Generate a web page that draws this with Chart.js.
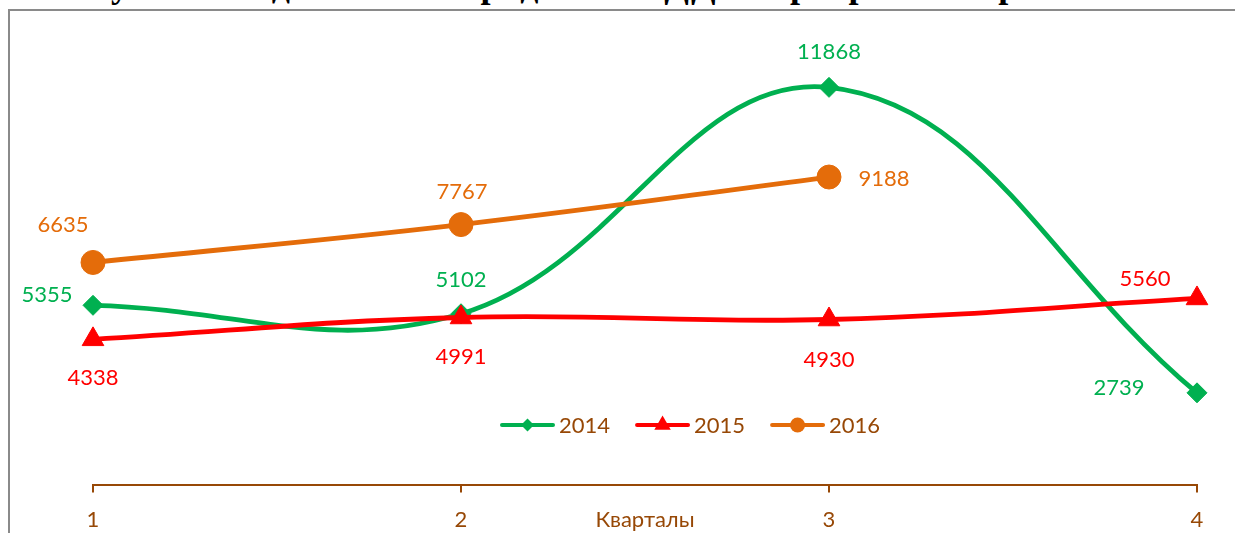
<!DOCTYPE html>
<html>
<head>
<meta charset="utf-8">
<title>Кварталы</title>
<script src="https://cdn.jsdelivr.net/npm/chart.js@4.4.1/dist/chart.umd.min.js"></script>
<style>
  html, body { margin: 0; padding: 0; background: #fff; overflow: hidden; }
  #wrap { position: relative; width: 1235px; height: 533px; overflow: hidden; }
  #heading {
    position: absolute; left: 625px; top: -33px; transform: translateX(-50%);
    font: bold 36px "Liberation Serif", serif; color: #000;
    white-space: nowrap; line-height: 36px; letter-spacing: 2px;
  }
  #frame {
    position: absolute; left: 8px; top: 9px; width: 1400px; height: 700px;
    border: 2px solid #8a8a8a; box-sizing: border-box;
  }
  #box { position: absolute; left: 0; top: 0; width: 1235px; height: 533px; }
</style>
</head>
<body>
<div id="wrap">
  <div id="heading">Анализ поступления денежных средств по ДДУ в разрезе кварталов 2014-2016 гг.</div>
  <div id="frame"></div>
  <div id="box"><canvas id="chart"></canvas></div>
</div>
<script>
// Data
const quarters = ['1', '2', '3', '4'];
const years = ['2014', '2015', '2016'];
const sales2014 = [5355, 5102, 11868, 2739];
const sales2015 = [4338, 4991, 4930, 5560];
const sales2016 = [6635, 7767, 9188, null];
const yMax = 14000;

const brown = '#974806';
const green = '#00B050';
const red = '#FF0000';
const orange = '#E46C0A';
const FONT = 'Lato';

// value labels next to the markers
const valueLabels = {
  id: 'valueLabels',
  afterDatasetsDraw(chart) {
    const ctx = chart.ctx;
    ctx.save();
    ctx.font = `22px ${FONT}`;
    ctx.textAlign = 'center';
    ctx.textBaseline = 'alphabetic';
    chart.data.datasets.forEach((ds, i) => {
      chart.getDatasetMeta(i).data.forEach((pt, j) => {
        const v = ds.data[j];
        if (v == null) return;
        const [dx, dy] = ds.labelOffsets[j];
        ctx.fillStyle = ds.borderColor;
        ctx.fillText(String(v), pt.x + dx, pt.y + dy + 8);
      });
    });
    ctx.restore();
  }
};

// legend drawn inside the plot, line + marker like the original
const innerLegend = {
  id: 'innerLegend',
  afterDraw(chart) {
    const ctx = chart.ctx;
    const y = 425;
    let x = 500;
    ctx.save();
    ctx.font = `22px ${FONT}`;
    ctx.textBaseline = 'alphabetic';
    chart.data.datasets.forEach(ds => {
      ctx.strokeStyle = ds.borderColor;
      ctx.lineWidth = 4;
      ctx.lineCap = 'round';
      ctx.beginPath();
      ctx.moveTo(x + 2, y);
      ctx.lineTo(x + 53, y);
      ctx.stroke();
      ctx.fillStyle = ds.borderColor;
      Chart.helpers.drawPoint(ctx, {
        pointStyle: ds.pointStyle, radius: ds.legendRadius, rotation: 0, borderWidth: 0
      }, x + 27.5, y);
      ctx.fillStyle = brown;
      ctx.fillText(ds.label, x + 59, y + 8);
      x += 59 + ctx.measureText(ds.label).width + 25;
    });
    ctx.restore();
  }
};

new Chart(document.getElementById('chart'), {
  type: 'line',
  data: {
    labels: quarters,
    datasets: [
      {
        label: years[0], data: sales2014,
        borderColor: green, backgroundColor: green,
        pointStyle: 'rectRot', pointRadius: 10, legendRadius: 6.5,
        order: 3,
        labelOffsets: [[-46, -11], [0, -35], [0, -36], [-78, -6]]
      },
      {
        label: years[1], data: sales2015,
        borderColor: red, backgroundColor: red,
        pointStyle: 'triangle', pointRadius: 12.5, legendRadius: 9.5,
        order: 2,
        labelOffsets: [[0, 38], [0, 39], [0, 39], [-52, -20]]
      },
      {
        label: years[2], data: sales2016,
        borderColor: orange, backgroundColor: orange,
        pointStyle: 'circle', pointRadius: 12, legendRadius: 7.5,
        order: 1,
        labelOffsets: [[-30, -38], [1, -34], [55, 1], [0, 0]]
      }
    ]
  },
  options: {
    responsive: true,
    maintainAspectRatio: false,
    animation: false,
    events: [],
    layout: { padding: { left: 93, right: 38, top: 16, bottom: 0 } },
    elements: {
      line: { borderWidth: 4.8, tension: 0.4, fill: false },
      point: { borderWidth: 1, hoverRadius: 0 }
    },
    plugins: {
      legend: { display: false },
      tooltip: { enabled: false }
    },
    scales: {
      x: {
        offset: false,
        // fixed axis band so the plot bottom sits where the original's axis is
        afterFit(scale) { scale.height = 48.5; },
        grid: { display: true, drawOnChartArea: false, drawTicks: true, tickLength: 8, color: brown, lineWidth: 2 },
        border: { display: true, color: brown, width: 2 },
        ticks: { color: brown, font: { family: FONT, size: 22 }, padding: 13.8, maxRotation: 0 },
        title: {
          display: true, text: 'Кварталы', color: brown,
          font: { family: FONT, size: 22 }, padding: { top: 0, bottom: 0.3 }
        }
      },
      y: {
        display: false,
        min: 0, max: yMax
      }
    }
  },
  plugins: [valueLabels, innerLegend]
});
</script>
</body>
</html>
